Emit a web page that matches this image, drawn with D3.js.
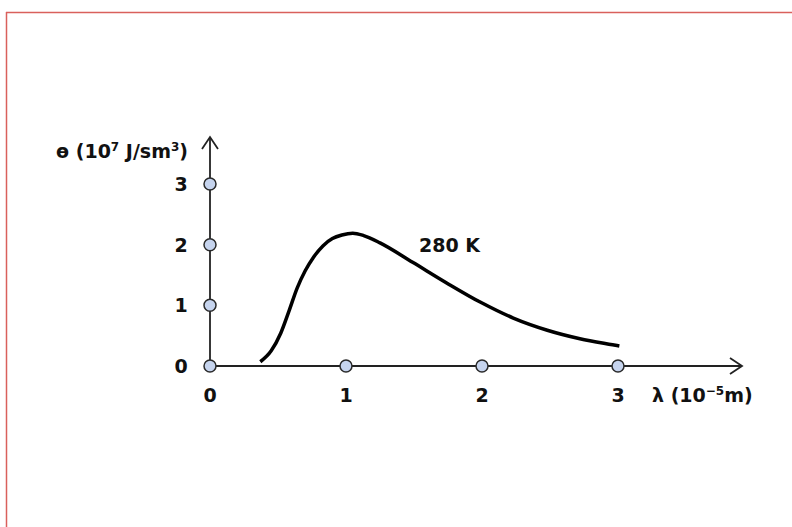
<!DOCTYPE html>
<html>
<head>
<meta charset="utf-8">
<script src="https://cdn.jsdelivr.net/npm/d3@7/dist/d3.min.js"></script>
<style>
  html, body { margin: 0; padding: 0; background: #fff; }
  svg { display: block; }
  text { font-family: "DejaVu Sans", sans-serif; font-weight: 700; fill: #111; }
</style>
</head>
<body>
<svg id="chart" width="792" height="527"></svg>
<script>
// Tick values on both axes
const xTicks = [0, 1, 2, 3];
const yTicks = [0, 1, 2, 3];

// Energy density curve for a black body at 280 K (λ in 10^-5 m, e in 10^7 J/sm³)
const lambda = [0.37, 0.45, 0.52, 0.58, 0.64, 0.70, 0.76, 0.83, 0.90, 0.97, 1.05, 1.13, 1.25, 1.49, 1.74, 1.99, 2.23, 2.48, 2.72, 2.96, 3.01];
const energy = [0.07, 0.25, 0.54, 0.90, 1.28, 1.57, 1.79, 1.98, 2.10, 2.16, 2.19, 2.15, 2.03, 1.71, 1.37, 1.05, 0.79, 0.59, 0.45, 0.35, 0.33];
const curveLabel = "280 K";

const svg = d3.select("#chart");

// Frame lines (top and left edges)
svg.append("line").attr("x1", 6).attr("y1", 12.5).attr("x2", 792).attr("y2", 12.5)
  .attr("stroke", "#d9605c").attr("stroke-width", 1.5);
svg.append("line").attr("x1", 6.5).attr("y1", 12).attr("x2", 6.5).attr("y2", 527)
  .attr("stroke", "#d9605c").attr("stroke-width", 1.5);

const x = d3.scaleLinear().domain([0, 3]).range([210, 618]);
const y = d3.scaleLinear().domain([0, 3]).range([366, 184]);

const axisColor = "#222";

// Axes with arrow heads
const xEnd = 742, yTop = 137;
svg.append("line").attr("x1", x(0)).attr("y1", y(0)).attr("x2", xEnd).attr("y2", y(0))
  .attr("stroke", axisColor).attr("stroke-width", 1.8);
svg.append("path").attr("d", `M${xEnd - 12},${y(0) - 8} L${xEnd},${y(0)} L${xEnd - 12},${y(0) + 8}`)
  .attr("fill", "none").attr("stroke", axisColor).attr("stroke-width", 1.8);
svg.append("line").attr("x1", x(0)).attr("y1", y(0)).attr("x2", x(0)).attr("y2", yTop)
  .attr("stroke", axisColor).attr("stroke-width", 1.8);
svg.append("path").attr("d", `M${x(0) - 8},${yTop + 12} L${x(0)},${yTop} L${x(0) + 8},${yTop + 12}`)
  .attr("fill", "none").attr("stroke", axisColor).attr("stroke-width", 1.8);

// Curve
const line = d3.line().x((d, i) => x(lambda[i])).y((d, i) => y(energy[i])).curve(d3.curveMonotoneX);
svg.append("path").datum(energy).attr("d", line)
  .attr("fill", "none").attr("stroke", "#000").attr("stroke-width", 3.5)
  .attr("stroke-linecap", "butt");

// Tick markers
const markerStyle = sel => sel.attr("r", 6).attr("fill", "#c6d4ee")
  .attr("stroke", "#2a2a2a").attr("stroke-width", 1.5);
svg.selectAll("circle.xt").data(xTicks).join("circle").attr("class", "xt")
  .attr("cx", d => x(d)).attr("cy", y(0)).call(markerStyle);
svg.selectAll("circle.yt").data(yTicks.filter(d => d > 0)).join("circle").attr("class", "yt")
  .attr("cx", x(0)).attr("cy", d => y(d)).call(markerStyle);

// Tick labels
svg.selectAll("text.xl").data(xTicks).join("text").attr("class", "xl")
  .attr("x", d => x(d)).attr("y", 402).attr("text-anchor", "middle")
  .attr("font-size", 19).text(d => d);
svg.selectAll("text.yl").data(yTicks).join("text").attr("class", "yl")
  .attr("x", 181).attr("y", d => y(d) + 7).attr("text-anchor", "middle")
  .attr("font-size", 19).text(d => d);

// Axis titles
const yt = svg.append("text").attr("x", 188).attr("y", 158).attr("text-anchor", "end").attr("font-size", 19);
yt.append("tspan").text("ɵ (10");
yt.append("tspan").attr("dy", -7).attr("font-size", 12).text("7");
yt.append("tspan").attr("dy", 7).text(" J/sm");
yt.append("tspan").attr("dy", -7).attr("font-size", 12).text("3");
yt.append("tspan").attr("dy", 7).text(")");

const xt = svg.append("text").attr("x", 652).attr("y", 402).attr("font-size", 19);
xt.append("tspan").text("λ (10");
xt.append("tspan").attr("dy", -7).attr("font-size", 12).text("−5");
xt.append("tspan").attr("dy", 7).text("m)");

// Curve label
svg.append("text").attr("x", 419).attr("y", 252).attr("font-size", 19).text(curveLabel);
</script>
</body>
</html>
